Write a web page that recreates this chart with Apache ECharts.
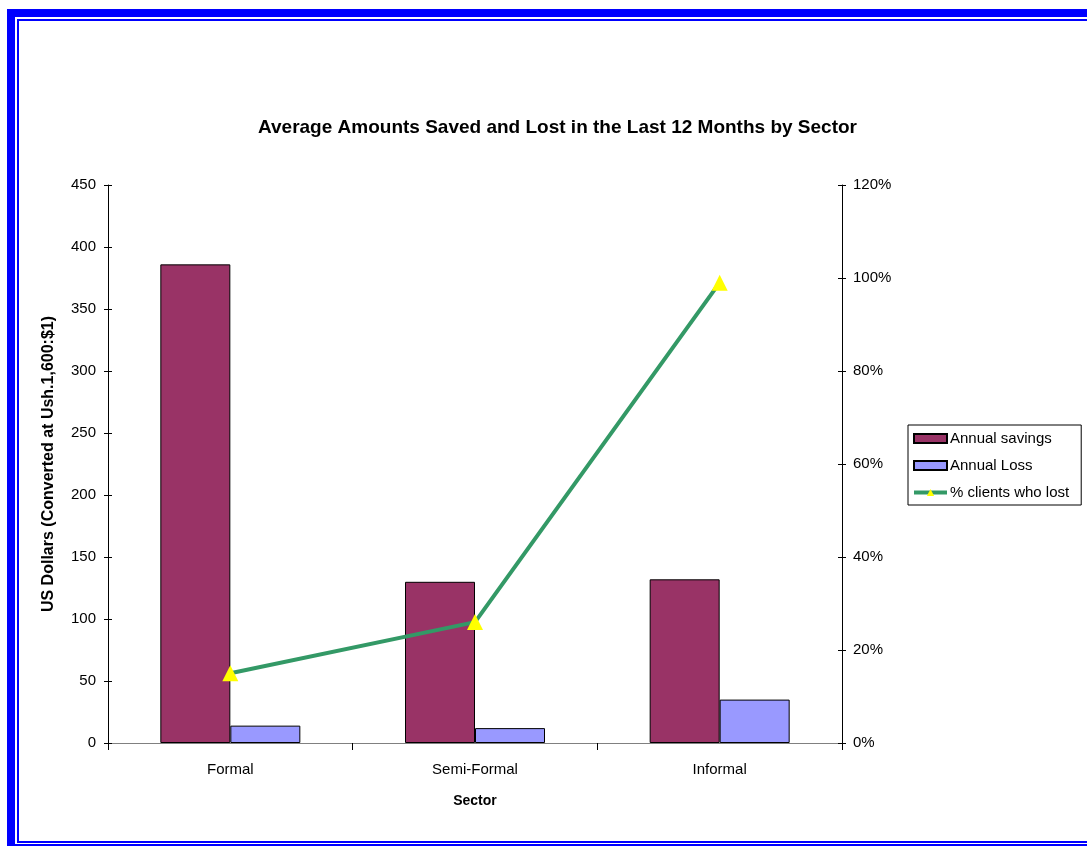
<!DOCTYPE html>
<html>
<head>
<meta charset="utf-8">
<script src="https://cdn.jsdelivr.net/npm/echarts@6/dist/echarts.min.js"></script>
<style>
html,body{margin:0;padding:0;background:#fff;}
#chart{width:1087px;height:846px;}
</style>
</head>
<body>
<div id="chart"></div>
<script>
const categories = ['Formal', 'Semi-Formal', 'Informal'];
const annualSavings = [386, 130, 132];
const annualLoss = [14, 12, 35];
const pctClientsLost = [15, 26, 99];
const seriesNames = ['Annual savings', 'Annual Loss', '% clients who lost'];
const titleText = 'Average Amounts Saved and Lost in the Last 12 Months by Sector';
const yLeftName = 'US Dollars (Converted at Ush.1,600:$1)';
const xName = 'Sector';

const chart = echarts.init(document.getElementById('chart'));
const FONT = 'Liberation Sans, Arial, sans-serif';
const axisCol = '#000';

const leftBase = {type:'value', min:0, max:450, interval:50, position:'left'};
const rightBase = {type:'value', min:0, max:120, interval:20, position:'right'};

chart.setOption({
  animation:false,
  backgroundColor:'#fff',
  textStyle:{fontFamily:FONT},
  title:{
    text:titleText, left:253, top:113,
    textStyle:{fontFamily:FONT, fontSize:19, fontWeight:'bold', color:'#000'}
  },
  graphic:[
    {type:'rect', shape:{x:11, y:13, width:1200, height:835}, style:{fill:'none', stroke:'#0000FF', lineWidth:8}, silent:true},
    {type:'rect', shape:{x:18, y:20, width:1200, height:822}, style:{fill:'none', stroke:'#0000FF', lineWidth:2}, silent:true}
  ],
  legend:{
    orient:'vertical', left:908, top:425,
    padding:[6,12,5,4], itemGap:12,
    backgroundColor:'#fff', borderColor:'#000', borderWidth:1,
    itemWidth:33, itemHeight:9,
    textStyle:{fontFamily:FONT, fontSize:15, color:'#000', padding:[0,0,0,-2]},
    data:[
      {name:seriesNames[0], icon:'rect'},
      {name:seriesNames[1], icon:'rect'},
      {name:seriesNames[2], lineStyle:{width:4, color:'#339966'}, itemStyle:{color:'#FFFF00'}}
    ]
  },
  grid:{left:108, right:245, top:185, bottom:103, containLabel:false},
  xAxis:{
    type:'category', data:categories,
    name:xName, nameLocation:'middle', nameGap:51,
    nameTextStyle:{fontFamily:FONT, fontSize:14, fontWeight:'bold', color:'#000'},
    axisLine:{lineStyle:{color:'#808080', width:1}},
    axisTick:{show:true, length:7, lineStyle:{color:'#000'}},
    axisLabel:{fontFamily:FONT, fontSize:15, color:'#000', margin:19},
    splitLine:{show:false}
  },
  yAxis:[
    Object.assign({}, leftBase, {
      name:yLeftName, nameLocation:'middle', nameGap:51, nameRotate:90,
      nameTextStyle:{fontFamily:FONT, fontSize:16, fontWeight:'bold', color:'#000'},
      axisLine:{show:true, lineStyle:{color:axisCol}},
      axisTick:{show:true, length:4, lineStyle:{color:axisCol}},
      axisLabel:{fontFamily:FONT, fontSize:15, color:'#000', margin:12},
      splitLine:{show:false}
    }),
    Object.assign({}, rightBase, {
      axisLine:{show:true, lineStyle:{color:axisCol}},
      axisTick:{show:true, length:4, lineStyle:{color:axisCol}},
      axisLabel:{fontFamily:FONT, fontSize:15, color:'#000', margin:11, formatter:'{value}%'},
      splitLine:{show:false}
    }),
    Object.assign({}, leftBase, {
      axisLine:{show:false},
      axisTick:{show:true, inside:true, length:4, lineStyle:{color:axisCol}},
      axisLabel:{show:false}, splitLine:{show:false}
    }),
    Object.assign({}, rightBase, {
      axisLine:{show:false},
      axisTick:{show:true, inside:true, length:4, lineStyle:{color:axisCol}},
      axisLabel:{show:false}, splitLine:{show:false}
    })
  ],
  series:[
    {
      name:seriesNames[0], type:'bar', yAxisIndex:0, data:annualSavings,
      barWidth:70, barGap:'0%',
      itemStyle:{color:'#993366', borderColor:'#000', borderWidth:1}
    },
    {
      name:seriesNames[1], type:'bar', yAxisIndex:0, data:annualLoss,
      barWidth:70, barGap:'0%',
      itemStyle:{color:'#9999FF', borderColor:'#000', borderWidth:1}
    },
    {
      name:seriesNames[2], type:'line', yAxisIndex:1, data:pctClientsLost,
      symbol:'triangle', symbolSize:16,
      lineStyle:{color:'#339966', width:4},
      itemStyle:{color:'#FFFF00', borderWidth:0},
      z:5
    }
  ]
});
</script>
</body>
</html>
